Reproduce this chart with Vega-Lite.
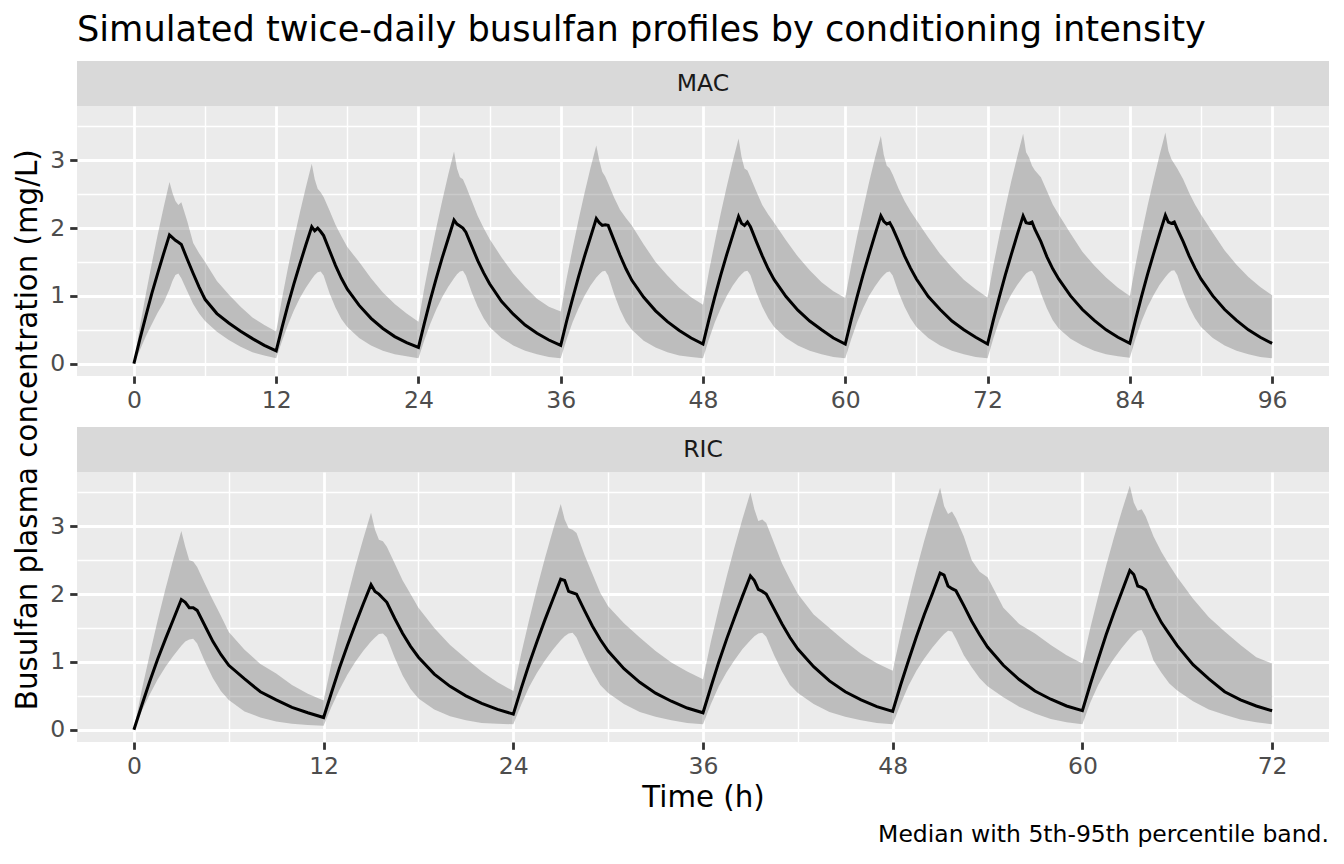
{
  "$schema": "https://vega.github.io/schema/vega-lite/v6.json",
  "background": "white",
  "padding": {"left": 14, "top": 12, "right": 12, "bottom": 6},
  "config": {
    "font": "DejaVu Sans",
    "view": {"stroke": null},
    "axis": {
      "domain": false,
      "labelFont": "DejaVu Sans",
      "labelFontSize": 23.5,
      "labelColor": "#4D4D4D",
      "tickColor": "#333333",
      "tickWidth": 2.8,
      "tickSize": 7.3,
      "labelPadding": 5,
      "gridColor": "#FFFFFF",
      "gridWidth": 2.8,
      "titleFont": "DejaVu Sans",
      "titleFontWeight": "normal",
      "titleColor": "#000000",
      "titleFontSize": 29.3,
      "titlePadding": 6
    },
    "title": {"font": "DejaVu Sans", "fontWeight": "normal", "color": "#000000"}
  },
  "title": {
    "text": "Busulfan plasma concentration (mg/L)",
    "orient": "left",
    "anchor": "middle",
    "fontSize": 29.3,
    "offset": 6
  },
  "datasets": {
    "mac": [
      {"t":0,"lo":0,"md":0,"hi":0},
      {"t":0.5,"lo":0.2,"md":0.36,"hi":0.54},
      {"t":1,"lo":0.4,"md":0.7,"hi":1.02},
      {"t":1.5,"lo":0.58,"md":1.03,"hi":1.47},
      {"t":2,"lo":0.75,"md":1.33,"hi":1.9},
      {"t":2.5,"lo":0.9,"md":1.62,"hi":2.3},
      {"t":3,"lo":1.1,"md":1.9,"hi":2.68},
      {"t":3.25,"lo":1.22,"md":1.86,"hi":2.52},
      {"t":3.5,"lo":1.31,"md":1.82,"hi":2.4},
      {"t":3.75,"lo":1.33,"md":1.79,"hi":2.34},
      {"t":4,"lo":1.26,"md":1.76,"hi":2.38},
      {"t":4.5,"lo":1.07,"md":1.54,"hi":2.1},
      {"t":5,"lo":0.88,"md":1.33,"hi":1.78},
      {"t":5.5,"lo":0.74,"md":1.13,"hi":1.63},
      {"t":6,"lo":0.63,"md":0.95,"hi":1.5},
      {"t":7,"lo":0.47,"md":0.74,"hi":1.22},
      {"t":8,"lo":0.35,"md":0.6,"hi":1.02},
      {"t":9,"lo":0.25,"md":0.48,"hi":0.84},
      {"t":10,"lo":0.17,"md":0.37,"hi":0.68},
      {"t":11,"lo":0.12,"md":0.27,"hi":0.57},
      {"t":12,"lo":0.08,"md":0.19,"hi":0.475},
      {"t":12.5,"lo":0.34,"md":0.54,"hi":0.97},
      {"t":13,"lo":0.58,"md":0.87,"hi":1.42},
      {"t":13.5,"lo":0.79,"md":1.18,"hi":1.84},
      {"t":14,"lo":0.97,"md":1.47,"hi":2.23},
      {"t":14.5,"lo":1.12,"md":1.75,"hi":2.6},
      {"t":15,"lo":1.25,"md":2.02,"hi":2.95},
      {"t":15.25,"lo":1.31,"md":1.96,"hi":2.72},
      {"t":15.5,"lo":1.35,"md":2.0,"hi":2.58},
      {"t":15.75,"lo":1.36,"md":1.95,"hi":2.53},
      {"t":16,"lo":1.3,"md":1.89,"hi":2.46},
      {"t":16.5,"lo":1.04,"md":1.67,"hi":2.26},
      {"t":17,"lo":0.83,"md":1.45,"hi":2.05},
      {"t":17.5,"lo":0.66,"md":1.26,"hi":1.88},
      {"t":18,"lo":0.54,"md":1.1,"hi":1.72},
      {"t":19,"lo":0.38,"md":0.86,"hi":1.5},
      {"t":20,"lo":0.27,"md":0.67,"hi":1.26},
      {"t":21,"lo":0.19,"md":0.52,"hi":1.05},
      {"t":22,"lo":0.14,"md":0.4,"hi":0.88},
      {"t":23,"lo":0.11,"md":0.31,"hi":0.74},
      {"t":24,"lo":0.08,"md":0.24,"hi":0.62},
      {"t":24.5,"lo":0.35,"md":0.6,"hi":1.12},
      {"t":25,"lo":0.59,"md":0.94,"hi":1.57},
      {"t":25.5,"lo":0.8,"md":1.26,"hi":2.0},
      {"t":26,"lo":0.98,"md":1.56,"hi":2.4},
      {"t":26.5,"lo":1.13,"md":1.84,"hi":2.78},
      {"t":27,"lo":1.26,"md":2.12,"hi":3.13},
      {"t":27.25,"lo":1.32,"md":2.06,"hi":2.88},
      {"t":27.5,"lo":1.36,"md":2.03,"hi":2.75},
      {"t":27.75,"lo":1.37,"md":2.0,"hi":2.72},
      {"t":28,"lo":1.3,"md":1.94,"hi":2.62},
      {"t":28.5,"lo":1.05,"md":1.73,"hi":2.4},
      {"t":29,"lo":0.84,"md":1.52,"hi":2.18},
      {"t":29.5,"lo":0.67,"md":1.34,"hi":2.0},
      {"t":30,"lo":0.54,"md":1.18,"hi":1.84},
      {"t":31,"lo":0.38,"md":0.92,"hi":1.57},
      {"t":32,"lo":0.27,"md":0.73,"hi":1.33},
      {"t":33,"lo":0.19,"md":0.57,"hi":1.13},
      {"t":34,"lo":0.14,"md":0.45,"hi":0.96},
      {"t":35,"lo":0.1,"md":0.35,"hi":0.84},
      {"t":36,"lo":0.08,"md":0.27,"hi":0.77},
      {"t":36.5,"lo":0.36,"md":0.63,"hi":1.26},
      {"t":37,"lo":0.61,"md":0.96,"hi":1.7},
      {"t":37.5,"lo":0.82,"md":1.28,"hi":2.12},
      {"t":38,"lo":1.0,"md":1.58,"hi":2.51},
      {"t":38.5,"lo":1.15,"md":1.86,"hi":2.88},
      {"t":39,"lo":1.27,"md":2.14,"hi":3.22},
      {"t":39.25,"lo":1.32,"md":2.08,"hi":3.0},
      {"t":39.5,"lo":1.36,"md":2.04,"hi":2.83},
      {"t":39.75,"lo":1.37,"md":2.05,"hi":2.76},
      {"t":40,"lo":1.3,"md":2.04,"hi":2.66},
      {"t":40.5,"lo":1.03,"md":1.82,"hi":2.45},
      {"t":41,"lo":0.8,"md":1.6,"hi":2.27},
      {"t":41.5,"lo":0.62,"md":1.4,"hi":2.15},
      {"t":42,"lo":0.5,"md":1.23,"hi":2.04},
      {"t":43,"lo":0.34,"md":0.98,"hi":1.76},
      {"t":44,"lo":0.24,"md":0.78,"hi":1.5},
      {"t":45,"lo":0.17,"md":0.62,"hi":1.3},
      {"t":46,"lo":0.12,"md":0.49,"hi":1.12},
      {"t":47,"lo":0.1,"md":0.38,"hi":0.98},
      {"t":48,"lo":0.08,"md":0.29,"hi":0.87},
      {"t":48.5,"lo":0.36,"md":0.65,"hi":1.36},
      {"t":49,"lo":0.61,"md":0.99,"hi":1.8},
      {"t":49.5,"lo":0.82,"md":1.31,"hi":2.22},
      {"t":50,"lo":1.0,"md":1.61,"hi":2.61},
      {"t":50.5,"lo":1.15,"md":1.89,"hi":2.98},
      {"t":51,"lo":1.27,"md":2.17,"hi":3.32},
      {"t":51.25,"lo":1.32,"md":2.07,"hi":3.05},
      {"t":51.5,"lo":1.36,"md":2.04,"hi":2.88},
      {"t":51.75,"lo":1.37,"md":2.09,"hi":2.85},
      {"t":52,"lo":1.31,"md":2.02,"hi":2.75},
      {"t":52.5,"lo":1.05,"md":1.8,"hi":2.54},
      {"t":53,"lo":0.84,"md":1.59,"hi":2.34},
      {"t":53.5,"lo":0.67,"md":1.4,"hi":2.2},
      {"t":54,"lo":0.54,"md":1.24,"hi":2.08},
      {"t":55,"lo":0.38,"md":0.99,"hi":1.82},
      {"t":56,"lo":0.27,"md":0.79,"hi":1.58},
      {"t":57,"lo":0.19,"md":0.63,"hi":1.38},
      {"t":58,"lo":0.14,"md":0.5,"hi":1.2},
      {"t":59,"lo":0.1,"md":0.38,"hi":1.07},
      {"t":60,"lo":0.08,"md":0.29,"hi":0.97},
      {"t":60.5,"lo":0.36,"md":0.65,"hi":1.45},
      {"t":61,"lo":0.61,"md":0.99,"hi":1.88},
      {"t":61.5,"lo":0.82,"md":1.31,"hi":2.28},
      {"t":62,"lo":1.0,"md":1.61,"hi":2.67},
      {"t":62.5,"lo":1.14,"md":1.9,"hi":3.03},
      {"t":63,"lo":1.26,"md":2.18,"hi":3.36},
      {"t":63.25,"lo":1.31,"md":2.1,"hi":3.08},
      {"t":63.5,"lo":1.35,"md":2.06,"hi":2.92},
      {"t":63.75,"lo":1.36,"md":2.08,"hi":2.88},
      {"t":64,"lo":1.3,"md":2.0,"hi":2.79},
      {"t":64.5,"lo":1.05,"md":1.8,"hi":2.58},
      {"t":65,"lo":0.84,"md":1.59,"hi":2.4},
      {"t":65.5,"lo":0.67,"md":1.41,"hi":2.25},
      {"t":66,"lo":0.54,"md":1.25,"hi":2.12},
      {"t":67,"lo":0.38,"md":0.99,"hi":1.86},
      {"t":68,"lo":0.27,"md":0.8,"hi":1.62},
      {"t":69,"lo":0.19,"md":0.63,"hi":1.42},
      {"t":70,"lo":0.14,"md":0.5,"hi":1.24},
      {"t":71,"lo":0.1,"md":0.39,"hi":1.1},
      {"t":72,"lo":0.08,"md":0.29,"hi":0.975},
      {"t":72.5,"lo":0.38,"md":0.65,"hi":1.46},
      {"t":73,"lo":0.64,"md":0.99,"hi":1.89},
      {"t":73.5,"lo":0.85,"md":1.31,"hi":2.3},
      {"t":74,"lo":1.02,"md":1.61,"hi":2.69},
      {"t":74.5,"lo":1.16,"md":1.9,"hi":3.05},
      {"t":75,"lo":1.28,"md":2.18,"hi":3.39},
      {"t":75.25,"lo":1.33,"md":2.08,"hi":3.12},
      {"t":75.5,"lo":1.36,"md":2.07,"hi":3.04},
      {"t":75.75,"lo":1.37,"md":2.09,"hi":2.92},
      {"t":76,"lo":1.3,"md":1.98,"hi":2.85},
      {"t":76.5,"lo":1.04,"md":1.8,"hi":2.75},
      {"t":77,"lo":0.82,"md":1.58,"hi":2.55},
      {"t":77.5,"lo":0.64,"md":1.4,"hi":2.35},
      {"t":78,"lo":0.52,"md":1.25,"hi":2.2},
      {"t":79,"lo":0.37,"md":1.0,"hi":1.92},
      {"t":80,"lo":0.27,"md":0.8,"hi":1.65},
      {"t":81,"lo":0.19,"md":0.64,"hi":1.45},
      {"t":82,"lo":0.14,"md":0.5,"hi":1.27},
      {"t":83,"lo":0.11,"md":0.39,"hi":1.12},
      {"t":84,"lo":0.09,"md":0.3,"hi":1.0},
      {"t":84.5,"lo":0.38,"md":0.66,"hi":1.48},
      {"t":85,"lo":0.63,"md":1.0,"hi":1.92},
      {"t":85.5,"lo":0.84,"md":1.32,"hi":2.33},
      {"t":86,"lo":1.01,"md":1.62,"hi":2.71},
      {"t":86.5,"lo":1.16,"md":1.91,"hi":3.07},
      {"t":87,"lo":1.28,"md":2.19,"hi":3.41},
      {"t":87.25,"lo":1.33,"md":2.09,"hi":3.14},
      {"t":87.5,"lo":1.37,"md":2.07,"hi":3.02},
      {"t":87.75,"lo":1.38,"md":2.09,"hi":2.95},
      {"t":88,"lo":1.31,"md":1.99,"hi":2.88},
      {"t":88.5,"lo":1.05,"md":1.8,"hi":2.72},
      {"t":89,"lo":0.84,"md":1.59,"hi":2.52},
      {"t":89.5,"lo":0.67,"md":1.41,"hi":2.35},
      {"t":90,"lo":0.54,"md":1.25,"hi":2.2},
      {"t":91,"lo":0.38,"md":1.0,"hi":1.93},
      {"t":92,"lo":0.27,"md":0.8,"hi":1.67},
      {"t":93,"lo":0.19,"md":0.64,"hi":1.46},
      {"t":94,"lo":0.14,"md":0.5,"hi":1.28},
      {"t":95,"lo":0.1,"md":0.39,"hi":1.13},
      {"t":96,"lo":0.08,"md":0.3,"hi":1.01}
    ],
    "ric": [
      {"t":0,"lo":0,"md":0,"hi":0},
      {"t":0.5,"lo":0.28,"md":0.36,"hi":0.59},
      {"t":1,"lo":0.52,"md":0.71,"hi":1.11},
      {"t":1.5,"lo":0.74,"md":1.04,"hi":1.61},
      {"t":2,"lo":0.93,"md":1.34,"hi":2.08},
      {"t":2.5,"lo":1.09,"md":1.63,"hi":2.52},
      {"t":3,"lo":1.24,"md":1.92,"hi":2.93},
      {"t":3.25,"lo":1.3,"md":1.88,"hi":2.7},
      {"t":3.5,"lo":1.33,"md":1.8,"hi":2.5},
      {"t":3.75,"lo":1.34,"md":1.8,"hi":2.48},
      {"t":4,"lo":1.27,"md":1.76,"hi":2.4},
      {"t":4.5,"lo":1.0,"md":1.53,"hi":2.15},
      {"t":5,"lo":0.76,"md":1.3,"hi":1.91},
      {"t":5.5,"lo":0.57,"md":1.11,"hi":1.68},
      {"t":6,"lo":0.44,"md":0.95,"hi":1.44},
      {"t":7,"lo":0.27,"md":0.75,"hi":1.18},
      {"t":8,"lo":0.18,"md":0.56,"hi":0.97},
      {"t":9,"lo":0.12,"md":0.44,"hi":0.83},
      {"t":10,"lo":0.09,"md":0.33,"hi":0.66},
      {"t":11,"lo":0.07,"md":0.25,"hi":0.53},
      {"t":12,"lo":0.06,"md":0.18,"hi":0.43},
      {"t":12.5,"lo":0.34,"md":0.55,"hi":0.98},
      {"t":13,"lo":0.59,"md":0.91,"hi":1.48},
      {"t":13.5,"lo":0.81,"md":1.24,"hi":1.95},
      {"t":14,"lo":1.0,"md":1.55,"hi":2.4},
      {"t":14.5,"lo":1.16,"md":1.85,"hi":2.81},
      {"t":15,"lo":1.3,"md":2.14,"hi":3.2},
      {"t":15.25,"lo":1.36,"md":2.04,"hi":2.95},
      {"t":15.5,"lo":1.41,"md":2.0,"hi":2.8},
      {"t":15.75,"lo":1.42,"md":1.94,"hi":2.78},
      {"t":16,"lo":1.36,"md":1.88,"hi":2.7},
      {"t":16.5,"lo":1.06,"md":1.64,"hi":2.45},
      {"t":17,"lo":0.8,"md":1.42,"hi":2.2},
      {"t":17.5,"lo":0.6,"md":1.23,"hi":2.0},
      {"t":18,"lo":0.46,"md":1.07,"hi":1.8},
      {"t":19,"lo":0.3,"md":0.82,"hi":1.5},
      {"t":20,"lo":0.2,"md":0.64,"hi":1.25},
      {"t":21,"lo":0.14,"md":0.5,"hi":1.05},
      {"t":22,"lo":0.1,"md":0.39,"hi":0.86},
      {"t":23,"lo":0.09,"md":0.3,"hi":0.7},
      {"t":24,"lo":0.08,"md":0.23,"hi":0.57},
      {"t":24.5,"lo":0.37,"md":0.61,"hi":1.12},
      {"t":25,"lo":0.63,"md":0.97,"hi":1.62},
      {"t":25.5,"lo":0.84,"md":1.3,"hi":2.09},
      {"t":26,"lo":1.02,"md":1.62,"hi":2.53},
      {"t":26.5,"lo":1.18,"md":1.92,"hi":2.94},
      {"t":27,"lo":1.32,"md":2.22,"hi":3.33},
      {"t":27.25,"lo":1.38,"md":2.2,"hi":3.1},
      {"t":27.5,"lo":1.42,"md":2.04,"hi":2.97},
      {"t":27.75,"lo":1.43,"md":2.02,"hi":2.95},
      {"t":28,"lo":1.36,"md":2.0,"hi":2.9},
      {"t":28.5,"lo":1.1,"md":1.76,"hi":2.58},
      {"t":29,"lo":0.86,"md":1.53,"hi":2.3},
      {"t":29.5,"lo":0.66,"md":1.33,"hi":2.02},
      {"t":30,"lo":0.54,"md":1.16,"hi":1.82},
      {"t":31,"lo":0.38,"md":0.9,"hi":1.57},
      {"t":32,"lo":0.26,"md":0.7,"hi":1.36},
      {"t":33,"lo":0.19,"md":0.54,"hi":1.16},
      {"t":34,"lo":0.14,"md":0.42,"hi":0.99},
      {"t":35,"lo":0.1,"md":0.32,"hi":0.86},
      {"t":36,"lo":0.08,"md":0.25,"hi":0.745},
      {"t":36.5,"lo":0.38,"md":0.63,"hi":1.3},
      {"t":37,"lo":0.64,"md":1.0,"hi":1.79},
      {"t":37.5,"lo":0.85,"md":1.34,"hi":2.26},
      {"t":38,"lo":1.03,"md":1.66,"hi":2.7},
      {"t":38.5,"lo":1.19,"md":1.97,"hi":3.11},
      {"t":39,"lo":1.32,"md":2.27,"hi":3.5},
      {"t":39.25,"lo":1.38,"md":2.2,"hi":3.25},
      {"t":39.5,"lo":1.42,"md":2.07,"hi":3.08},
      {"t":39.75,"lo":1.43,"md":2.04,"hi":3.1},
      {"t":40,"lo":1.37,"md":2.0,"hi":3.05},
      {"t":40.5,"lo":1.1,"md":1.78,"hi":2.75},
      {"t":41,"lo":0.86,"md":1.56,"hi":2.45},
      {"t":41.5,"lo":0.66,"md":1.36,"hi":2.22},
      {"t":42,"lo":0.54,"md":1.19,"hi":2.0},
      {"t":43,"lo":0.38,"md":0.93,"hi":1.7},
      {"t":44,"lo":0.26,"md":0.72,"hi":1.5},
      {"t":45,"lo":0.19,"md":0.56,"hi":1.3},
      {"t":46,"lo":0.14,"md":0.44,"hi":1.12},
      {"t":47,"lo":0.1,"md":0.34,"hi":0.98},
      {"t":48,"lo":0.08,"md":0.27,"hi":0.87},
      {"t":48.5,"lo":0.38,"md":0.66,"hi":1.41},
      {"t":49,"lo":0.65,"md":1.02,"hi":1.9},
      {"t":49.5,"lo":0.87,"md":1.37,"hi":2.36},
      {"t":50,"lo":1.05,"md":1.7,"hi":2.79},
      {"t":50.5,"lo":1.21,"md":2.0,"hi":3.19},
      {"t":51,"lo":1.35,"md":2.31,"hi":3.57},
      {"t":51.25,"lo":1.41,"md":2.28,"hi":3.3},
      {"t":51.5,"lo":1.46,"md":2.12,"hi":3.18},
      {"t":51.75,"lo":1.45,"md":2.08,"hi":3.22},
      {"t":52,"lo":1.34,"md":2.05,"hi":3.12},
      {"t":52.5,"lo":1.1,"md":1.83,"hi":2.85},
      {"t":53,"lo":0.92,"md":1.6,"hi":2.5},
      {"t":53.5,"lo":0.76,"md":1.4,"hi":2.33},
      {"t":54,"lo":0.64,"md":1.22,"hi":2.25},
      {"t":55,"lo":0.48,"md":0.95,"hi":1.8},
      {"t":56,"lo":0.34,"md":0.74,"hi":1.56},
      {"t":57,"lo":0.24,"md":0.57,"hi":1.42},
      {"t":58,"lo":0.16,"md":0.45,"hi":1.25},
      {"t":59,"lo":0.11,"md":0.35,"hi":1.1},
      {"t":60,"lo":0.08,"md":0.28,"hi":0.975},
      {"t":60.5,"lo":0.4,"md":0.67,"hi":1.5},
      {"t":61,"lo":0.66,"md":1.04,"hi":1.97},
      {"t":61.5,"lo":0.87,"md":1.4,"hi":2.42},
      {"t":62,"lo":1.05,"md":1.73,"hi":2.84},
      {"t":62.5,"lo":1.21,"md":2.04,"hi":3.23},
      {"t":63,"lo":1.35,"md":2.35,"hi":3.6},
      {"t":63.25,"lo":1.41,"md":2.29,"hi":3.35},
      {"t":63.5,"lo":1.46,"md":2.12,"hi":3.23},
      {"t":63.75,"lo":1.47,"md":2.1,"hi":3.25},
      {"t":64,"lo":1.36,"md":2.06,"hi":3.15},
      {"t":64.5,"lo":1.02,"md":1.8,"hi":2.85},
      {"t":65,"lo":0.84,"md":1.58,"hi":2.62},
      {"t":65.5,"lo":0.68,"md":1.41,"hi":2.43},
      {"t":66,"lo":0.58,"md":1.24,"hi":2.25},
      {"t":67,"lo":0.42,"md":0.96,"hi":1.93},
      {"t":68,"lo":0.3,"md":0.75,"hi":1.66},
      {"t":69,"lo":0.22,"md":0.56,"hi":1.45},
      {"t":70,"lo":0.15,"md":0.44,"hi":1.25},
      {"t":71,"lo":0.11,"md":0.35,"hi":1.07},
      {"t":72,"lo":0.08,"md":0.28,"hi":0.975}
    ]
  },
  "spacing": 15,
  "vconcat": [
    {
      "spacing": 0,
      "vconcat": [
        {
          "width": 1252,
          "height": 45,
          "view": {"fill": "#D9D9D9", "stroke": null},
          "title": {
            "text": "Simulated twice-daily busulfan profiles by conditioning intensity",
            "anchor": "start",
            "frame": "group",
            "fontSize": 35.2,
            "offset": 13
          },
          "data": {"values": [{"panel": "MAC"}]},
          "mark": {"type": "text", "fontSize": 23.5, "color": "#1A1A1A", "baseline": "middle", "align": "center"},
          "encoding": {"text": {"field": "panel", "type": "nominal"}}
        },
        {
          "width": 1252,
          "height": 270,
          "view": {"fill": "#EBEBEB", "stroke": null},
          "data": {"name": "mac"},
          "resolve": {"axis": {"x": "independent", "y": "independent"}},
          "layer": [
            {
              "mark": {"type": "area", "fill": "#666666", "fillOpacity": 0.35},
              "encoding": {
                "x": {
                  "field": "t", "type": "quantitative",
                  "scale": {"domain": [-4.8, 100.8], "nice": false, "zero": false},
                  "axis": {"values": [0, 12, 24, 36, 48, 60, 72, 84, 96], "title": null, "grid": true}
                },
                "y": {
                  "field": "lo", "type": "quantitative",
                  "scale": {"domain": [-0.181, 3.801], "nice": false, "zero": false},
                  "axis": {"values": [0, 1, 2, 3], "title": null, "grid": true}
                },
                "y2": {"field": "hi"}
              }
            },
            {
              "mark": {"type": "line", "color": "#000000", "strokeWidth": 3},
              "encoding": {
                "x": {
                  "field": "t", "type": "quantitative",
                  "axis": {"orient": "top", "values": [6, 18, 30, 42, 54, 66, 78, 90], "grid": true, "gridWidth": 1.4, "labels": false, "ticks": false, "title": null}
                },
                "y": {
                  "field": "md", "type": "quantitative",
                  "axis": {"orient": "right", "values": [0.5, 1.5, 2.5, 3.5], "grid": true, "gridWidth": 1.4, "labels": false, "ticks": false, "title": null}
                }
              }
            }
          ]
        }
      ]
    },
    {
      "spacing": 0,
      "vconcat": [
        {
          "width": 1252,
          "height": 45,
          "view": {"fill": "#D9D9D9", "stroke": null},
          "data": {"values": [{"panel": "RIC"}]},
          "mark": {"type": "text", "fontSize": 23.5, "color": "#1A1A1A", "baseline": "middle", "align": "center"},
          "encoding": {"text": {"field": "panel", "type": "nominal"}}
        },
        {
          "width": 1252,
          "height": 270,
          "view": {"fill": "#EBEBEB", "stroke": null},
          "title": {
            "text": "Median with 5th-95th percentile band.",
            "orient": "bottom",
            "anchor": "end",
            "fontSize": 23.5,
            "offset": 10
          },
          "data": {"name": "ric"},
          "resolve": {"axis": {"x": "independent", "y": "independent"}},
          "layer": [
            {
              "mark": {"type": "area", "fill": "#666666", "fillOpacity": 0.35},
              "encoding": {
                "x": {
                  "field": "t", "type": "quantitative",
                  "scale": {"domain": [-3.6, 75.6], "nice": false, "zero": false},
                  "axis": {"values": [0, 12, 24, 36, 48, 60, 72], "title": "Time (h)", "grid": true}
                },
                "y": {
                  "field": "lo", "type": "quantitative",
                  "scale": {"domain": [-0.181, 3.801], "nice": false, "zero": false},
                  "axis": {"values": [0, 1, 2, 3], "title": null, "grid": true}
                },
                "y2": {"field": "hi"}
              }
            },
            {
              "mark": {"type": "line", "color": "#000000", "strokeWidth": 3},
              "encoding": {
                "x": {
                  "field": "t", "type": "quantitative",
                  "axis": {"orient": "top", "values": [6, 18, 30, 42, 54, 66], "grid": true, "gridWidth": 1.4, "labels": false, "ticks": false, "title": null}
                },
                "y": {
                  "field": "md", "type": "quantitative",
                  "axis": {"orient": "right", "values": [0.5, 1.5, 2.5, 3.5], "grid": true, "gridWidth": 1.4, "labels": false, "ticks": false, "title": null}
                }
              }
            }
          ]
        }
      ]
    }
  ]
}
